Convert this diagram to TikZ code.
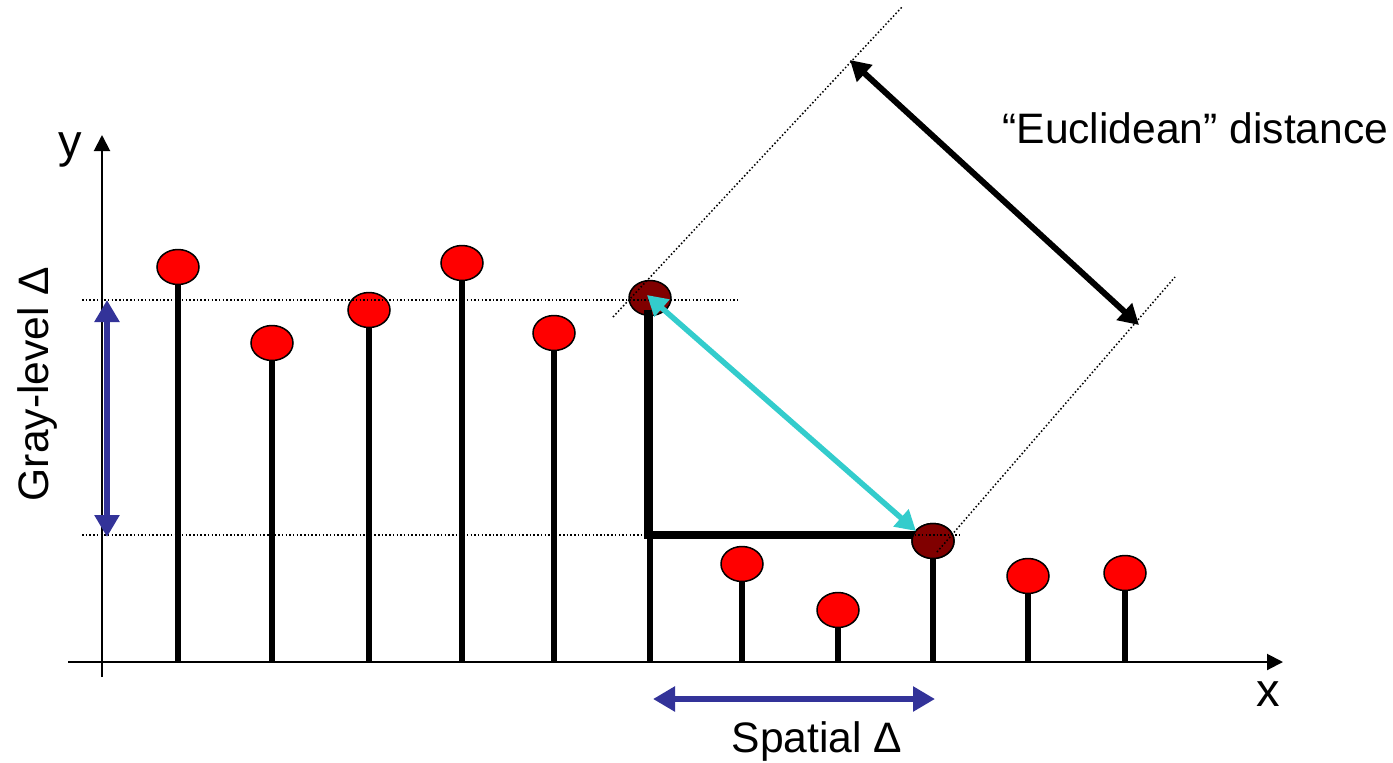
\documentclass[tikz,border=0pt]{standalone}
\usepackage{fontspec}
\setmainfont{Liberation Sans}
\usetikzlibrary{arrows.meta,shapes.geometric}
\definecolor{dotred}{HTML}{FF0000}
\definecolor{darkdot}{HTML}{800000}
\definecolor{navyarrow}{HTML}{333399}
\definecolor{cyanarrow}{HTML}{33CCCC}
\begin{document}
\begin{tikzpicture}[x=0.5pt,y=-0.5pt,
  sample/.style={ellipse,draw=black,line width=0.75pt,fill=dotred,minimum width=21pt,minimum height=17.5pt,inner sep=0pt},
  darksample/.style={sample,fill=darkdot},
  stem/.style={line width=3pt},
  axis/.style={line width=1pt,-{Triangle[length=8pt,width=8pt]}},
  guide/.style={line width=0.75pt,dash pattern=on 0.75pt off 1.1pt},
  lshape/.style={line width=4pt,line join=miter},
  bluearrow/.style={line width=3pt,draw=navyarrow,{Triangle[length=11pt,width=12pt]}-{Triangle[length=11pt,width=12pt]}},
  eucarrow/.style={line width=3pt,draw=black,{Triangle[length=10pt,width=11pt]}-{Triangle[length=10pt,width=11pt]}},
  cyanline/.style={line width=2.75pt,draw=cyanarrow,{Triangle[length=10pt,width=11pt]}-{Triangle[length=10pt,width=11pt]}},
  textlabel/.style={inner sep=0pt,font=\fontsize{21.3}{26}\selectfont},
  axlabel/.style={inner sep=0pt,font=\fontsize{23.5}{28}\selectfont}]
\useasboundingbox (0,0) rectangle (1393,762);

% axes
\coordinate (xa0) at (68,662);
\coordinate (xa1) at (1283,662);
\coordinate (ya0) at (102,677);
\coordinate (ya1) at (102,135);
\draw[axis] (xa0) -- (xa1);
\draw[axis] (ya0) -- (ya1);
\node[axlabel,anchor=base] (ylab) at (70,157) {y};
\node[axlabel,anchor=base] (xlab) at (1268,706) {x};

% samples
\node[sample] (s1) at (178,267) {};
\node[sample] (s2) at (272,343) {};
\node[sample] (s3) at (369,310) {};
\node[sample] (s4) at (462,263) {};
\node[sample] (s5) at (554,333) {};
\node[darksample] (s6) at (650,298) {};
\node[sample] (s7) at (742,564) {};
\node[sample] (s8) at (838,610) {};
\node[darksample] (s9) at (933,541) {};
\node[sample] (s10) at (1028,576) {};
\node[sample] (s11) at (1125,573) {};

% stems
\foreach \i/\x in {1/178,2/272,3/369,4/462,5/554,6/650,7/742,8/838,9/933,10/1028,11/1125}{
  \coordinate (b\i) at (\x,662);
  \draw[stem] (s\i.south) -- (b\i);
}

% thick L
\coordinate (Lc) at (648,534.5);
\draw[lshape] (648,310) -- (Lc) -- (917,534.5);
\node[darksample] at (s9) {};

% dotted guides
\coordinate (gu1) at (82,300);
\coordinate (gu2) at (737,300);
\coordinate (gl1) at (82,535);
\coordinate (gl2) at (962,535);
\coordinate (du1) at (613,317);
\coordinate (du2) at (902,7);
\coordinate (dl1) at (937,552);
\coordinate (dl2) at (1175,277);
\draw[guide] (gu1) -- (gu2);
\draw[guide] (gl1) -- (gl2);
\draw[guide] (du1) -- (du2);
\draw[guide] (dl1) -- (dl2);

% euclidean arrow
\coordinate (e1) at (850,60);
\coordinate (e2) at (1139,325);
\draw[eucarrow] (e1) -- (e2);
\node[textlabel,anchor=base west] (euc) at (1002,143) {“Euclidean” distance};

% cyan arrow
\coordinate (c1) at (647,295);
\coordinate (c2) at (916,531);
\draw[cyanline] (c1) -- (c2);

% gray-level arrow
\coordinate (g1) at (107,300);
\coordinate (g2) at (107,537);
\draw[bluearrow] (g1) -- (g2);
\node[textlabel,anchor=base,rotate=90] (glab) at (48,384) {Gray-level Δ};

% spatial arrow
\coordinate (p1) at (653,699);
\coordinate (p2) at (935,699);
\draw[bluearrow] (p1) -- (p2);
\node[textlabel,anchor=base] (slab) at (817,752) {Spatial Δ};
\end{tikzpicture}
\end{document}
